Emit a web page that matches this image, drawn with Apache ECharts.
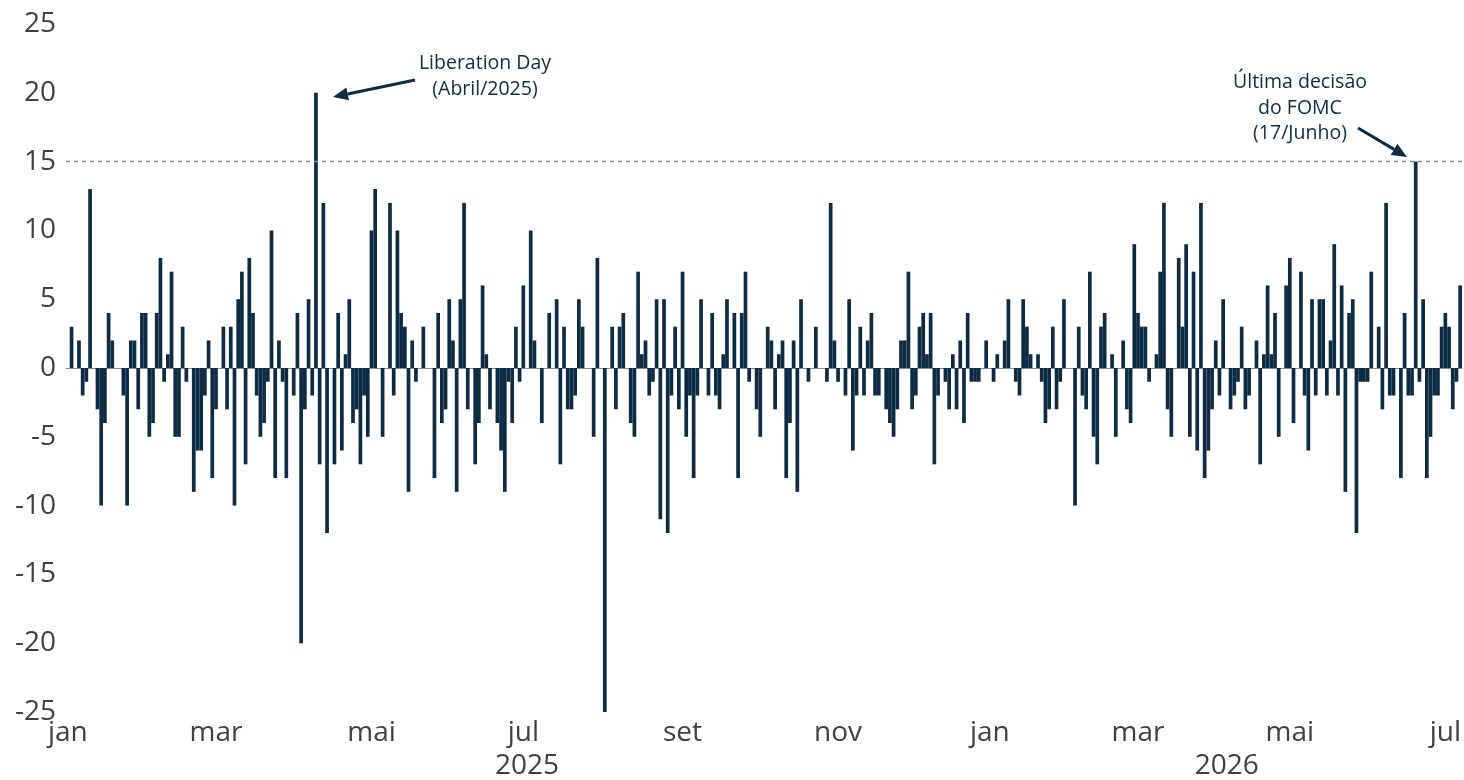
<!DOCTYPE html>
<html>
<head>
<meta charset="utf-8">
<title>Variação diária</title>
<script src="https://cdn.jsdelivr.net/npm/echarts@6/dist/echarts.min.js"></script>
<style>
	html, body { margin: 0; padding: 0; background: #fff; }
	#chart-container { width: 1464px; height: 780px; }
</style>
</head>
<body>
<div id="chart-container"></div>
<script>
// variação diária (pb), dias úteis de jan/2025 a jul/2026
var values = [
	0,
	3, 0, 2, -2, -1, 13, 0, -3, -10, -4, 4, 2, 0, 0, -2, -10, 2, 2, -3, 4, 4, -5, -4, 4, 8, -1, 1, 7, -5, -5,
	3, -1, 0, -9, -6, -6, -2, 2, -8, -3, 0, 3, -3, 3, -10, 5, 7, -7, 8, 4, -2, -5, -4, -1, 10, -8, 2, -1, -8, 0, -2, 4,
	-20, -3, 5, -2, 20, -7, 12, -12, 0, -7, 4, -6, 1, 5, -4, -3, -7, -2, -5, 10, 13, 0, -5, 0, 12, -2, 10, 4, 3, -9, 2, -1,
	0, 3, 0, 0, -8, 4, -4, -3, 5, 2, -9, 5, 12, -3, 0, -7, -4, 6, 1, -3, 0, -4, -6, -9, -1, -4, 3, -1, 6, 0, 10, 2,
	0, -4, 0, 4, 0, 5, -7, 3, -3, -3, -2, 5, 3, 0, 0, -5, 8, 0, -25, 0, 3, -3, 3, 4, 0, -4, -5, 7, 1, 2, -2, -1,
	5, -11, 5, -12, -2, 3, -3, 7, -5, -2, -8, -2, 5, 0, -2, 4, -2, -3, 1, 5, 0, 4, -8, 4, 7, -1, 0, -3, -5, 0, 3, 2,
	-3, 1, 2, -8, -4, 2, -9, 5, 0, -1, 0, 3, 0, 0, -1, 12, 2, -1, 0, -2, 5, -6, -2, 3, -2, 2, 4, -2, -2, 0, -3,
	-4, -5, -3, 2, 2, 7, -3, -2, 3, 4, 1, 4, -7, -2, 0, -1, -3, 1, -3, 2, -4, 4, -1, -1, -1, 0, 2, 0, -1, 1, 0, 2,
	5, 0, -1, -2, 5, 3, 1, 0, 1, -1, -4, -3, 3, -3, -1, 5, 0, 0, -10, 3, -2, -3, 7, -5, -7, 3, 4, 0, 1, -5, 0, 2,
	-3, -4, 9, 4, 3, 3, -1, 0, 1, 7, 12, -3, -5, 0, 8, 3, 9, -5, 7, -6, 12, -8, -6, -3, 2, -2, 5, 0, -3, -2, -1, 3,
	-3, -2, 0, 2, -7, 1, 6, 1, 4, -5, 0, 6, 8, -4, 0, 7, -2, -6, 5, -2, 5, 5, -2, 2, 9, -2, 6, -9, 4, 5, -12, -1,
	-1, -1, 7, 0, 3, -3, 12, -2, -2, 0, -8, 4, -2, -2, 15, -1, 5, -8, -5, -2, -2, 3, 4, 3, -3, -1, 6
];

// rótulos do eixo x (índice do dia -> texto)
var monthLabels = {
	0: 'jan', 40: 'mar', 82: 'mai', 123: 'jul', 166: 'set', 208: 'nov',
	249: 'jan', 289: 'mar', 330: 'mai', 372: 'jul'
};
var yearLabels = { 124: '2025', 313: '2026' };

var refLine = 15;

var days = values.map((v, i) => String(i));

var navy = '#0e2b44';
var font = 'Open Sans';

function arrow(x1, y1, x2, y2) {
	var a = Math.atan2(y2 - y1, x2 - x1);
	var len = 15, hw = 6.5;
	var bx = x2 - len * Math.cos(a), by = y2 - len * Math.sin(a);
	var nx = -Math.sin(a), ny = Math.cos(a);
	return [
		{
			type: 'line',
			shape: { x1: x1, y1: y1, x2: bx, y2: by },
			style: { stroke: navy, lineWidth: 3 }
		},
		{
			type: 'polygon',
			shape: { points: [[x2, y2], [bx + nx * hw, by + ny * hw], [bx - nx * hw, by - ny * hw]] },
			style: { fill: navy }
		}
	];
}

var dom = document.getElementById('chart-container');
var myChart = echarts.init(dom, null, {
	renderer: 'canvas'
});

var option = {
	animation: false,
	grid: {
		left: 66,
		right: 2,
		top: 24,
		bottom: 66,
		containLabel: false
	},
	xAxis: [
		{
			type: 'category',
			data: days,
			axisLine: { onZero: true, lineStyle: { color: '#8c8c8c', width: 1 } },
			axisTick: { show: false },
			axisLabel: {
				interval: (idx) => monthLabels[idx] !== undefined,
				formatter: (v, idx) => monthLabels[idx] || '',
				fontSize: 28,
				fontFamily: font,
				color: '#404040',
				margin: 7
			}
		},
		{
			type: 'category',
			data: days,
			position: 'bottom',
			offset: 33,
			axisLine: { show: false },
			axisTick: { show: false },
			axisLabel: {
				interval: (idx) => yearLabels[idx] !== undefined,
				formatter: (v, idx) => yearLabels[idx] || '',
				fontSize: 28,
				fontFamily: font,
				color: '#404040',
				margin: 7
			}
		}
	],
	yAxis: {
		type: 'value',
		min: -25,
		max: 25,
		interval: 5,
		splitLine: { show: false },
		axisLine: { show: false },
		axisTick: { show: false },
		axisLabel: {
			fontSize: 28,
			fontFamily: font,
			color: '#404040',
			margin: 10
		}
	},
	series: [
		{
			type: 'bar',
			data: values,
			barCategoryGap: '0%',
			itemStyle: { color: navy },
			markLine: {
				silent: true,
				symbol: ['none', 'none'],
				label: { show: false },
				lineStyle: { type: [4, 4], color: '#8c8c8c', width: 1.3 },
				data: [{ yAxis: refLine }]
			}
		}
	],
	graphic: [
		{
			type: 'text',
			x: 485,
			y: 76,
			style: {
				text: 'Liberation Day\n(Abril/2025)',
				textAlign: 'center',
				textVerticalAlign: 'middle',
				fontSize: 19.5,
				lineHeight: 26,
				fontFamily: font,
				fill: navy
			}
		},
		{
			type: 'text',
			x: 1300,
			y: 108,
			style: {
				text: 'Última decisão\ndo FOMC\n(17/Junho)',
				textAlign: 'center',
				textVerticalAlign: 'middle',
				fontSize: 19.5,
				lineHeight: 25.5,
				fontFamily: font,
				fill: navy
			}
		}
	].concat(arrow(415, 80, 333, 97), arrow(1358, 128, 1407, 157))
};

myChart.setOption(option);

window.addEventListener('resize', myChart.resize);
</script>
</body>
</html>
